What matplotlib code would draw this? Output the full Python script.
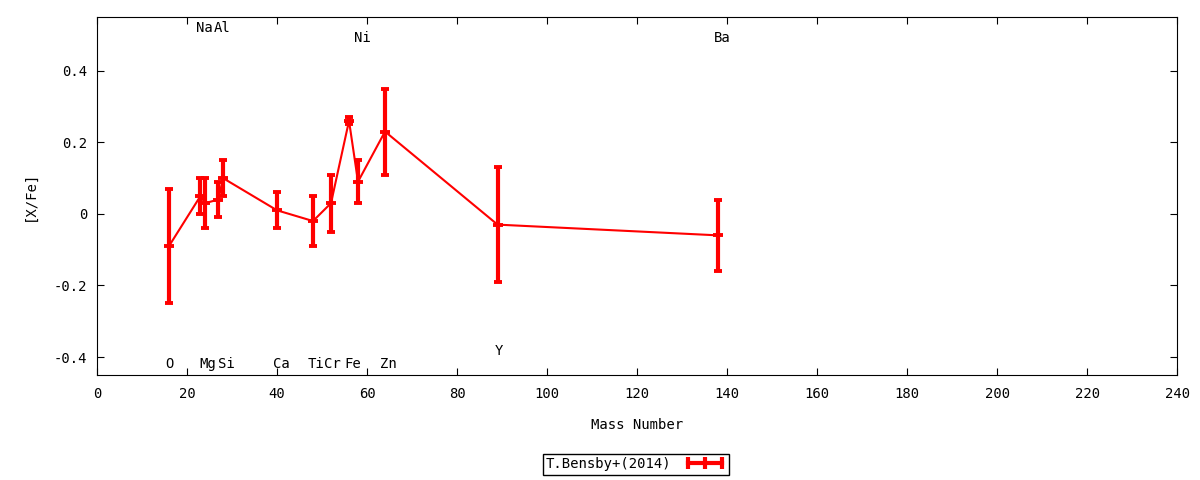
import matplotlib
matplotlib.use("Agg")
import matplotlib.pyplot as plt
from matplotlib.lines import Line2D

# abundance data, T.Bensby+(2014)
mass = [16, 23, 24, 27, 28, 40, 48, 52, 56, 58, 64, 89, 138]
xfe = [-0.09, 0.05, 0.03, 0.04, 0.10, 0.01, -0.02, 0.03, 0.26, 0.09, 0.23, -0.03, -0.06]
err = [0.16, 0.05, 0.07, 0.05, 0.05, 0.05, 0.07, 0.08, 0.01, 0.06, 0.12, 0.16, 0.10]

# element labels: name, x, y
elements = ["O", "Na", "Mg", "Al", "Si", "Ca", "Ti", "Cr", "Fe", "Ni", "Zn", "Y", "Ba"]
label_x = [16.0, 23.9, 24.7, 27.9, 28.7, 41.0, 48.7, 52.3, 56.8, 59.0, 64.7, 89.3, 138.9]
label_y = [-0.42, 0.52, -0.42, 0.52, -0.42, -0.42, -0.42, -0.42, -0.42, 0.49, -0.42, -0.383, 0.49]

plt.rcParams['font.family'] = ['DejaVu Sans Mono']
plt.rcParams['font.size'] = 10

fig = plt.figure(figsize=(12, 4.8), dpi=100)
ax = fig.add_axes([0.0808, 0.2188, 0.9002, 0.7458])

ax.errorbar(mass, xfe, yerr=err, color='red', lw=1.5, elinewidth=3,
            capsize=3.2, capthick=2.8, marker='_', ms=7, mew=2.8)

for name, x, y in zip(elements, label_x, label_y):
    ax.text(x, y, name, ha='center', va='center')

ax.set_xlim(0, 240)
ax.set_ylim(-0.45, 0.55)
ax.set_xticks(range(0, 241, 20))
ax.set_yticks([-0.4, -0.2, 0, 0.2, 0.4])
ax.set_yticklabels(['-0.4', '-0.2', '0', '0.2', '0.4'])
ax.tick_params(axis='x', direction='in', top=True, length=5, pad=9)
ax.tick_params(axis='y', direction='in', right=True, length=5, pad=7)
ax.set_xlabel('Mass Number', labelpad=12)
ax.set_ylabel('[X/Fe]', labelpad=12)

# gnuplot-like key sample: thick line with ticks at both ends and middle
handle = Line2D([0, 1], [0, 0], color='red', lw=3, marker='|', ms=8, mew=3)
leg = fig.legend([handle], ['T.Bensby+(2014)'], loc='center',
                 bbox_to_anchor=(0.53, 0.033), markerfirst=False, numpoints=3,
                 fancybox=False, edgecolor='black', framealpha=1,
                 borderpad=0.25, handlelength=3.0, handletextpad=0.9)
leg.get_frame().set_linewidth(1.0)

fig.savefig('out.png', dpi=100)
